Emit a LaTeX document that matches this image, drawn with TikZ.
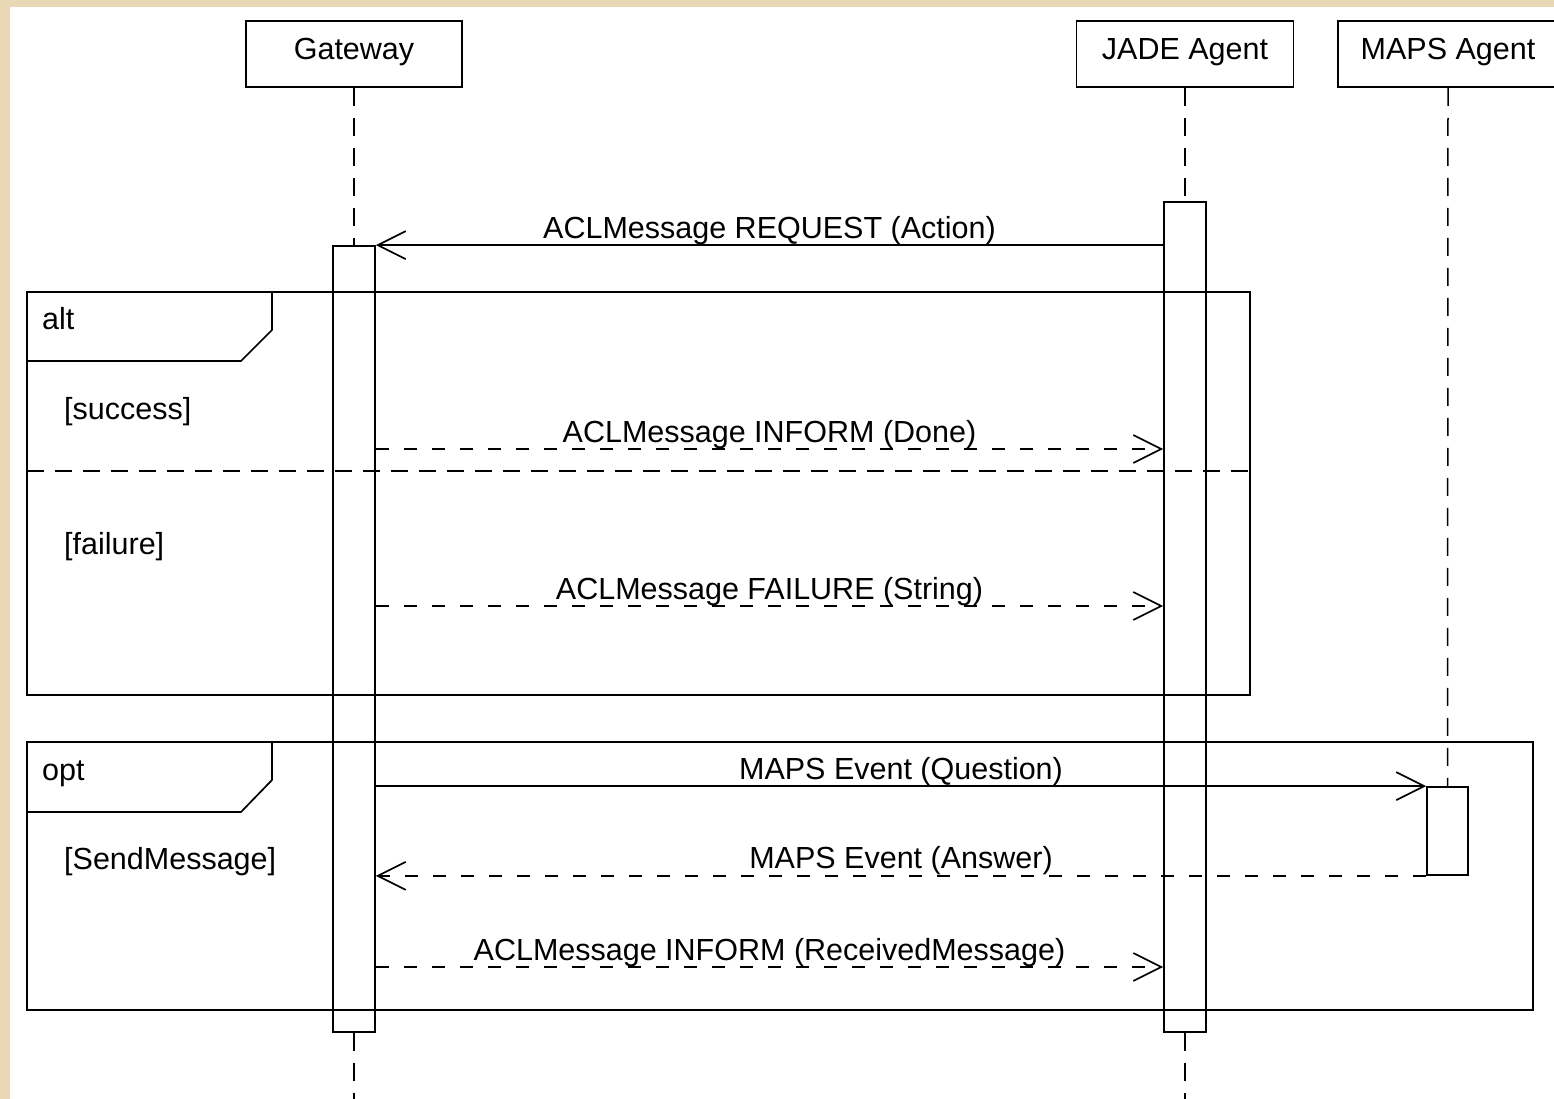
\documentclass[tikz,border=0pt]{standalone}
\usepackage{fontspec}
\setmainfont{Liberation Sans}
\usetikzlibrary{arrows.meta}
\definecolor{beige}{RGB}{233,215,182}
\begin{document}
\begin{tikzpicture}[x=1pt,y=-1pt,
  every node/.style={font=\fontsize{30.5}{36}\selectfont},
  actor/.style={draw,line width=1.7pt,minimum height=66pt,inner sep=0pt,text height=21pt,text depth=10pt},
  actbar/.style={draw,line width=1.7pt,minimum width=42pt,inner sep=0pt},
  lifeline/.style={line width=1.5pt,dash pattern=on 18pt off 12pt},
  msg/.style={line width=1.7pt,-{Straight Barb[length=28pt,width=28pt]}},
  reply/.style={msg,dash pattern=on 13pt off 15pt},
  frame/.style={line width=1.7pt},
  lbl/.style={anchor=base,yshift=7pt,inner sep=0pt},
  guard/.style={anchor=base west,inner sep=0pt}]
\fill[beige] (0,0) rectangle (1554,1099);
\fill[white] (10,7) rectangle (1554,1099);
\useasboundingbox (0,0) rectangle (1554,1099);

% actors
\node[actor,minimum width=216pt] (gw) at (354,54) {Gateway};
\node[actor,minimum width=217pt] (jade) at (1185,54) {JADE Agent};
\node[actor,minimum width=220pt] (maps) at (1448,54) {MAPS Agent};

% activation bars
\node[actbar,minimum height=786pt] (gwact) at (354,639) {};
\node[actbar,minimum height=830pt] (jadeact) at (1185,617) {};
\node[actbar,minimum width=41pt,minimum height=88pt] (mapsact) at (1447.5,831) {};

% lifelines
\coordinate (bottom) at (0,1110);
\draw[lifeline] (gw.south) -- (gwact.north);
\draw[lifeline] (gwact.south) -- (gwact.south |- bottom);
\draw[lifeline] (jade.south) -- (jadeact.north);
\draw[lifeline] (jadeact.south) -- (jadeact.south |- bottom);
\draw[lifeline] (maps.south) -- (mapsact.north);

% alt frame
\draw[frame] (27,292) rectangle (1250,695);
\draw[frame] (27,361) -- (241,361) -- (272,330) -- (272,292);
\node[guard] (altlbl) at (42,329) {alt};
\node[guard] (succ) at (64,419) {[success]};
\draw[frame,dash pattern=on 17pt off 11pt] (27,471) -- (1250,471);
\node[guard] (fail) at (64,554) {[failure]};

% opt frame
\draw[frame] (27,742) rectangle (1533,1010);
\draw[frame] (27,812) -- (241,812) -- (272,780) -- (272,742);
\node[guard] (optlbl) at (42,780) {opt};
\node[guard] (send) at (64,869) {[SendMessage]};

% message levels
\coordinate (yDone) at (0,449);
\coordinate (yFail) at (0,606);
\coordinate (yRecv) at (0,967);

% messages
\draw[msg] (jadeact.west |- gwact.north) -- node[lbl] (l1) {ACLMessage REQUEST (Action)} (gwact.north east);
\draw[reply] (gwact.east |- yDone) -- node[lbl] (l2) {ACLMessage INFORM (Done)} (jadeact.west |- yDone);
\draw[reply] (gwact.east |- yFail) -- node[lbl] (l3) {ACLMessage FAILURE (String)} (jadeact.west |- yFail);
\draw[msg] (gwact.east |- mapsact.north) -- node[lbl] (l4) {MAPS Event (Question)} (mapsact.north west);
\draw[reply] (mapsact.south west) -- node[lbl] (l5) {MAPS Event (Answer)} (gwact.east |- mapsact.south);
\draw[reply] (gwact.east |- yRecv) -- node[lbl] (l6) {ACLMessage INFORM (ReceivedMessage)} (jadeact.west |- yRecv);
\end{tikzpicture}
\end{document}
